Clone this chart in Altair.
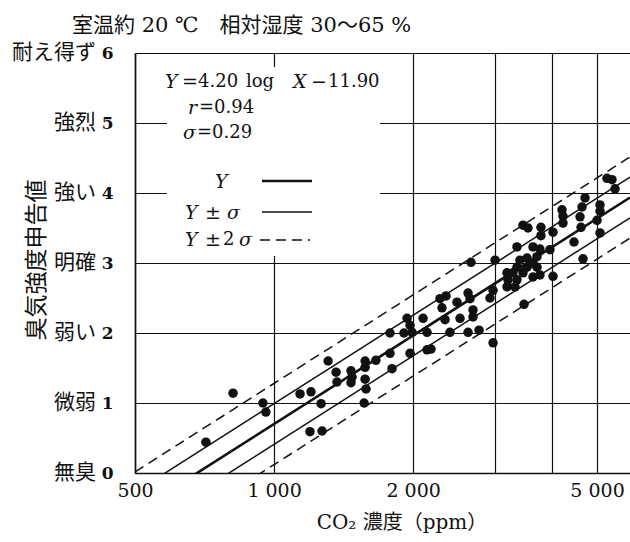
import math
import altair as alt
import pandas as pd

INK = "#111111"
SERIF = "DejaVu Serif"
JP = "Noto Sans CJK JP"
MIX = "DejaVu Serif, Noto Sans CJK JP"

# ---- measured points (CO2 ppm, odour intensity score) ----
co2_ppm = [712, 815, 946, 960, 1138, 1202, 1264, 1196, 1270, 1309,
           1362, 1368, 1467, 1467, 1475, 1574, 1574, 1574, 1581, 1566,
           1661, 1800, 1782, 1969, 2143, 2186, 1782, 1910, 1989, 2143,
           1940, 1969, 2101, 2286, 2356, 2309, 2344, 2403, 2488, 2526,
           2629, 2655, 2629, 2695, 2695, 2777, 2978, 2668, 3008, 2933,
           2978, 3475, 3192, 3208, 3192, 3322, 3289, 3355, 3457, 3634,
           3762, 4015, 3355, 3527, 3707, 3405, 3527, 3634, 3707, 3355,
           3634, 3762, 3955, 3781, 3781, 3457, 3545, 4015, 4199, 4220,
           4220, 4458, 4663, 4640, 4594, 4617, 4710, 5075, 5075, 5000,
           5075, 5254, 5387, 5469]
odor_score = [0.44, 1.14, 1.00, 0.87, 1.13, 1.16, 0.99, 0.59, 0.60, 1.60,
              1.44, 1.30, 1.46, 1.29, 1.37, 1.60, 1.51, 1.34, 1.20, 1.00,
              1.61, 1.49, 1.71, 1.71, 1.76, 1.77, 2.00, 2.00, 2.01, 2.01,
              2.21, 2.11, 2.21, 2.49, 2.53, 2.36, 2.19, 2.01, 2.44, 2.21,
              2.57, 2.49, 2.01, 2.33, 2.23, 2.04, 1.86, 3.01, 3.04, 2.50,
              2.61, 2.41, 2.86, 2.76, 2.66, 2.66, 2.86, 2.76, 2.86, 2.80,
              2.83, 2.81, 2.94, 2.94, 2.94, 3.04, 3.07, 3.00, 3.09, 3.23,
              3.23, 3.20, 3.19, 3.51, 3.39, 3.54, 3.50, 3.44, 3.76, 3.67,
              3.57, 3.30, 3.06, 3.80, 3.66, 3.51, 3.93, 3.83, 3.74, 3.61,
              3.43, 4.21, 4.19, 4.06]

# ---- regression shown in the chart: Y = 4.20 log X - 11.90, sigma = 0.29 ----
slope = 4.20
intercept = -11.90
sigma = 0.29
x_domain = [500, 5893]
band_names = ["Y", "Y+σ", "Y-σ", "Y+2σ", "Y-2σ"]
band_k = [0, 1, -1, 2, -2]
band_style = ["main", "thin", "thin", "dash", "dash"]

# ---- axes ----
x_tick_values = [500, 1000, 2000, 3000, 4000, 5000]
x_tick_labels = ["500", "1 000", "2 000", "", "", "5 000"]
y_levels = [0, 1, 2, 3, 4, 5, 6]
y_level_names = ["無臭", "微弱", "弱い", "明確", "強い", "強烈", "耐え得ず"]

pts = pd.DataFrame({"co2": co2_ppm, "score": odor_score})
rows = []
for n, k, s in zip(band_names, band_k, band_style):
    for xv in x_domain:
        rows.append({"name": n, "style": s, "co2": xv,
                     "score": slope * math.log10(xv) + intercept + k * sigma})
lines = pd.DataFrame(rows)
levels = pd.DataFrame({"level": y_levels, "name": y_level_names})
one = pd.DataFrame({"k": [0]})

xs = alt.Scale(type="log", domain=x_domain, nice=False)
ys = alt.Scale(domain=[0, 6], nice=False)

label_expr = "".join(
    f"datum.value == {v} ? '{l}' : " for v, l in zip(x_tick_values, x_tick_labels)
) + "''"

x_axis = alt.Axis(values=x_tick_values, labelExpr=label_expr, ticks=False, grid=True,
                  gridColor=INK, gridWidth=1.2, domainColor=INK, domainWidth=1.6,
                  labelFont=SERIF, labelFontSize=19, labelColor=INK, labelPadding=8,
                  labelFlush=False, labelOverlap=False, title=None)
y_axis = alt.Axis(values=y_levels, format="d", ticks=False, grid=True, gridColor=INK,
                  gridWidth=1.2, domainColor=INK, domainWidth=1.6, labelFont=SERIF,
                  labelFontSize=17, labelFontWeight="bold", labelColor=INK,
                  labelPadding=22, title=None)

base = alt.Chart(pts).mark_circle(size=90, color=INK, opacity=1).encode(
    x=alt.X("co2:Q", scale=xs, axis=x_axis),
    y=alt.Y("score:Q", scale=ys, axis=y_axis),
)

box = alt.Chart(one).mark_rect(color="white").encode(
    x=alt.value(32), x2=alt.value(245), y=alt.value(14), y2=alt.value(203))


def band(style, **kw):
    return alt.Chart(lines).transform_filter(alt.datum.style == style).mark_line(
        clip=True, color=INK, **kw).encode(
        x=alt.X("co2:Q", scale=xs), y=alt.Y("score:Q", scale=ys), detail="name:N")


main_line = band("main", strokeWidth=2.6)
thin_lines = band("thin", strokeWidth=1.5)
dash_lines = band("dash", strokeWidth=1.5, strokeDash=[10, 6])

level_text = alt.Chart(levels).mark_text(
    font=JP, fontSize=21, align="right", baseline="middle", color=INK).encode(
    x=alt.value(-39), y=alt.Y("level:Q", scale=ys), text="name:N")


def txt(s, x, y, size=19, font=SERIF, style="normal", align="left", angle=0):
    return alt.Chart(one).mark_text(
        text=s, font=font, fontSize=size, fontStyle=style, align=align,
        baseline="middle", angle=angle, color=INK).encode(
        x=alt.value(x), y=alt.value(y))


def seg(x1, x2, y, width, dash=None):
    kw = {"strokeDash": dash} if dash else {}
    return alt.Chart(one).mark_rule(color=INK, strokeWidth=width, **kw).encode(
        x=alt.value(x1), x2=alt.value(x2), y=alt.value(y))


texts = [
    txt("室温約 20 ℃　相対湿度 30～65 %", -63, -27, size=21, font=MIX),
    txt("臭気強度申告値", -98, 207, size=23, font=JP, align="center", angle=270),
    txt("CO₂ 濃度（ppm）", 267, 470, size=20, font=MIX, align="center"),
    # formula block
    txt("Y", 30, 29, style="italic"),
    txt("=", 47, 29),
    txt("4.20", 63, 29, size=18),
    txt("log", 111, 29, size=18),
    txt("X", 158, 29, style="italic"),
    txt("−", 176, 29),
    txt("11.90", 193, 29, size=18),
    txt("r", 53, 55, style="italic"),
    txt("=0.94", 64, 55, size=18),
    txt("σ", 48, 80, style="italic"),
    txt("=0.29", 62, 80, size=18),
    # legend
    txt("Y", 80, 129, style="italic"),
    txt("Y", 50, 160, style="italic"),
    txt("±", 70, 160),
    txt("σ", 92, 160, style="italic"),
    txt("Y", 50, 187, style="italic"),
    txt("±", 70, 187),
    txt("2", 88, 187, size=18),
    txt("σ", 104, 187, style="italic"),
]
legend_lines = [
    seg(127, 177, 128, 2.6),
    seg(127, 177, 159, 1.5),
    seg(125, 175, 187, 1.5, dash=[10, 6]),
]

chart = alt.layer(
    box, dash_lines, thin_lines, main_line, base,
    level_text, *legend_lines, *texts
).properties(
    width=495, height=420,
    autosize=alt.AutoSizeParams(type="none"),
    padding={"left": 135, "top": 53, "right": 0, "bottom": 69},
).configure_view(stroke=INK, strokeWidth=1.6).configure(background="white")

chart.save("out.html", embed_options={"renderer": "svg", "actions": False})
